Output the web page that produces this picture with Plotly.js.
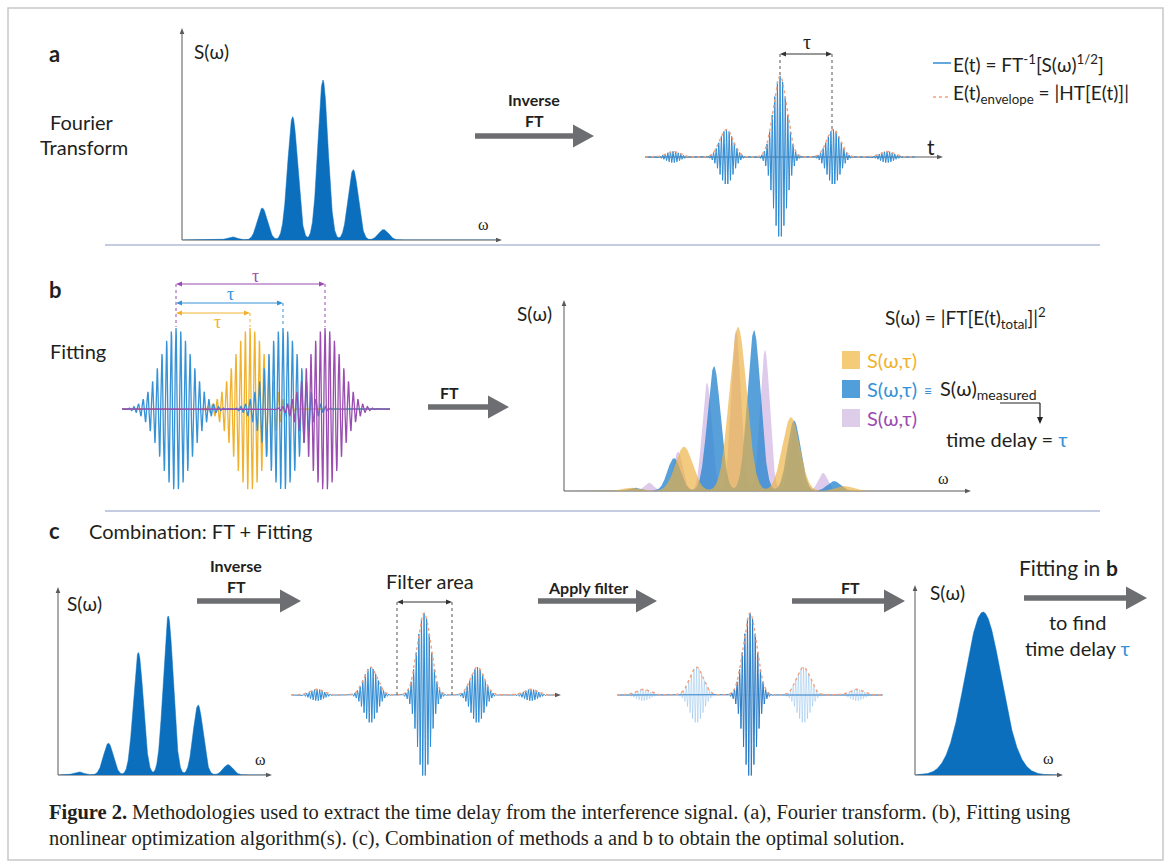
<!DOCTYPE html>
<html><head><meta charset="utf-8">
<script src="https://cdn.plot.ly/plotly-3.0.1.min.js"></script>
<style>html,body{margin:0;padding:0;background:#fff;}#fig{width:1171px;height:868px;}</style>
</head><body><div id="fig"></div>
<script>
const W = 1171, H = 868;

// ================= DATA =================
// (a) and (c): measured spectrum – fringe peak positions (ω, a.u.) and relative heights
const combPeakOmega  = [1, 2, 3, 4, 5, 6];
const combPeakHeight = [0.02, 0.20, 0.77, 1.00, 0.44, 0.065];
// (a) and (c): retrieved time-domain field – packet delays (units of τ) and relative amplitudes
const pulseDelayTau  = [-2, -1, 0, 1, 2];
const pulseAmplitude = [0.07, 0.34, 1.00, 0.34, 0.07];
// (c): packets kept by the filter
const filterKeep     = [false, false, true, false, false];
// (b): trial pulse pairs – reference pulse and trial delays (a.u.)
const trialRefDelay    = 0;
const trialDelayYellow = 74;
const trialDelayBlue   = 107;
const trialDelayPurple = 149;
// (b): trial spectra – fringe peaks (ω, a.u.) and heights (%)
const specYellowOmega  = [6.7, 12.0, 17.4, 22.7, 28.0];
const specYellowHeight = [2, 27, 100, 45, 3];
const specBlueOmega    = [7.0, 11.0, 15.0, 19.0, 23.0, 27.0];
const specBlueHeight   = [2, 20, 76, 98, 43, 6];
const specPurpleOmega  = [8.5, 11.4, 14.3, 17.2, 20.1, 23.0, 25.9];
const specPurpleHeight = [5, 24, 66, 98, 86, 38, 11];
// (c): spectrum of the filtered central packet
const filteredBandCenter = [0];
const filteredBandHeight = [1.0];

// ================= STYLE =================
const SANS  = 'Lato, "Open Sans", "DejaVu Sans", sans-serif';
const SERIF = '"Liberation Serif", "DejaVu Serif", serif';
const TXT = '#231f20', ARROW = '#6d6e71', AX = '#58595b';
const BLUE_FILL = '#0b6fbd', BLUE_LINE = '#2f8bd3', ENV = '#f3a27e';
const YEL = '#f0b22e', BLU = '#3592d6', PUR = '#9a4cb0';

// ================= HELPERS =================
function linspace(a, b, n) { const r = []; for (let i = 0; i < n; i++) r.push(a + (b - a) * i / (n - 1)); return r; }
function comb(xs, centers, heights, sigma) {
  return xs.map(x => centers.reduce((s, c, k) => s + heights[k] * Math.exp(-0.5 * ((x - c) / sigma) ** 2), 0));
}
function field(ts, delays, amps, sigma, period) {
  return ts.map(t => delays.reduce((s, d, k) => s + amps[k] * Math.exp(-0.5 * ((t - d) / sigma) ** 2) * Math.cos(2 * Math.PI * (t - d) / period), 0));
}
function envelope(ts, delays, amps, sigma) {
  return ts.map(t => delays.reduce((s, d, k) => s + amps[k] * Math.exp(-0.5 * ((t - d) / sigma) ** 2), 0));
}
function xR(p0, p1, pOrig, vOrig, s) { return [vOrig + (p0 - pOrig) / s, vOrig + (p1 - pOrig) / s]; }
function yR(p0, p1, pBase, vBase, s) { return [vBase - (p1 - pBase) / s, vBase + (pBase - p0) / s]; }

const layout = {
  width: W, height: H, margin: {l: 0, r: 0, t: 0, b: 0},
  paper_bgcolor: '#ffffff', plot_bgcolor: 'rgba(0,0,0,0)', showlegend: false,
  xaxis: {domain: [0, 1], range: [0, W], visible: false, fixedrange: true},
  yaxis: {domain: [0, 1], range: [H, 0], visible: false, fixedrange: true},
  shapes: [], annotations: []
};
let nAx = 1;
function panel(px0, px1, py0, py1, xr, yr) {
  nAx++; const k = nAx;
  layout['xaxis' + k] = {domain: [px0 / W, px1 / W], range: xr, visible: false, fixedrange: true, anchor: 'y' + k};
  layout['yaxis' + k] = {domain: [1 - py1 / H, 1 - py0 / H], range: yr, visible: false, fixedrange: true, anchor: 'x' + k};
  return {xaxis: 'x' + k, yaxis: 'y' + k};
}
const S = layout.shapes, A = layout.annotations;
function line(x0, y0, x1, y1, color, width, dash, layer) {
  S.push({type: 'line', xref: 'x', yref: 'y', x0, y0, x1, y1, line: {color, width, dash: dash || 'solid'}, layer: layer || 'above'});
}
function head(xt, yt, dir, len, half, color) {
  let p;
  if (dir === 'r') p = `M${xt},${yt} L${xt - len},${yt - half} L${xt - len},${yt + half} Z`;
  if (dir === 'l') p = `M${xt},${yt} L${xt + len},${yt - half} L${xt + len},${yt + half} Z`;
  if (dir === 'u') p = `M${xt},${yt} L${xt - half},${yt + len} L${xt + half},${yt + len} Z`;
  if (dir === 'd') p = `M${xt},${yt} L${xt - half},${yt - len} L${xt + half},${yt - len} Z`;
  S.push({type: 'path', xref: 'x', yref: 'y', path: p, fillcolor: color, line: {width: 0}, layer: 'above'});
}
function bigArrow(x0, x1, y) {
  const hl = 21, hh = 11.5, st = 2.7, xs = x1 - hl;
  S.push({type: 'path', xref: 'x', yref: 'y', layer: 'above', fillcolor: ARROW, line: {width: 0},
    path: `M${x0},${y - st} L${xs},${y - st} L${xs},${y - hh} L${x1},${y} L${xs},${y + hh} L${xs},${y + st} L${x0},${y + st} Z`});
}
function axisArrows(ox, oy, topY, rightX) {
  if (topY !== null) { line(ox, oy, ox, topY + 5, AX, 1, 'solid', 'below'); head(ox, topY, 'u', 6, 2.3, AX); }
  line(ox, oy, rightX - 5, oy, AX, 1, 'solid', 'below'); head(rightX, oy, 'r', 6, 2.3, AX);
}
function dblArrow(x0, x1, y, color) {
  line(x0 + 4, y, x1 - 4, y, color, 1);
  head(x0, y, 'l', 6, 2.6, color); head(x1, y, 'r', 6, 2.6, color);
}
function T(x, y, text, o) {
  o = o || {};
  A.push({xref: 'x', yref: 'y', x, y, text, showarrow: false, xanchor: o.xa || 'center', yanchor: o.ya || 'middle',
    borderpad: 0, font: {family: o.fam || SANS, size: o.size || 19, color: o.color || TXT, weight: o.bold ? 'bold' : 'normal'}});
}

// ================= PANELS (axes) =================
const aSpec = panel(182, 502, 26, 240, xR(182, 502, 232, 1, 30.3), yR(26, 240, 240, 0, 160));
const aTime = panel(645, 943, 70, 244, xR(645, 943, 780, 0, 53.5), yR(70, 244, 157, 0, 81));
const bSig  = panel(122, 390, 320, 498, xR(122, 390, 176, 0, 1), yR(320, 498, 409, 0, 81));
const bSpec = panel(564, 971, 300, 491, xR(564, 971, 564, 0, 10), yR(300, 491, 491, 0, 1.64));
const cSpec = panel(58, 272, 585, 775, xR(58, 272, 78.5, 1, 29.9), yR(585, 775, 775, 0, 159));
const cTime = panel(290, 560, 605, 785, xR(290, 560, 424, 0, 53.5), yR(605, 785, 695, 0, 82));
const cFilt = panel(617, 883, 605, 785, xR(617, 883, 750, 0, 53.5), yR(605, 785, 695, 0, 82));
const cGaus = panel(915, 1063, 585, 775, xR(915, 1063, 983, 0, 18), yR(585, 775, 775, 0, 163));

// ================= TRACES =================
const traces = [];
function add(ax, x, y, extra) { traces.push(Object.assign({type: 'scatter', mode: 'lines', x, y, hoverinfo: 'skip', showlegend: false}, ax, extra)); }

// (a) spectrum
let xs = linspace(-0.6, 9.8, 2200);
add(aSpec, xs, comb(xs, combPeakOmega, combPeakHeight, 0.165), {fill: 'tozeroy', fillcolor: BLUE_FILL, line: {color: BLUE_FILL, width: 0.5}});
// (a) time field + envelope
let ts = linspace(-2.52, 2.52, 5000);
add(aTime, ts, field(ts, pulseDelayTau, pulseAmplitude, 0.127, 0.0486), {line: {color: BLUE_LINE, width: 1}});
add(aTime, ts, envelope(ts, pulseDelayTau, pulseAmplitude, 0.127), {line: {color: ENV, width: 1.4, dash: '3px,3px'}});

// (b) trial fields
ts = linspace(-54, 214, 4000);
add(bSig, ts, field(ts, [trialDelayYellow], [1], 16, 4.7), {line: {color: YEL, width: 1.3}});
add(bSig, ts, field(ts, [trialRefDelay, trialDelayBlue], [1, 1], 16, 4.7), {line: {color: BLU, width: 1.3}});
add(bSig, ts, field(ts, [trialDelayPurple], [1], 16, 4.7), {line: {color: PUR, width: 1.3}});

// (b) trial spectra
xs = linspace(0.3, 40.5, 2500);
add(bSpec, xs, comb(xs, specPurpleOmega, specPurpleHeight, 0.48), {fill: 'tozeroy', fillcolor: 'rgba(200,168,222,0.6)', line: {width: 0, color: 'rgba(0,0,0,0)'}});
add(bSpec, xs, comb(xs, specBlueOmega, specBlueHeight, 0.66), {fill: 'tozeroy', fillcolor: 'rgba(40,133,208,0.78)', line: {width: 0, color: 'rgba(0,0,0,0)'}});
add(bSpec, xs, comb(xs, specYellowOmega, specYellowHeight, 0.87), {fill: 'tozeroy', fillcolor: 'rgba(236,178,68,0.68)', line: {width: 0, color: 'rgba(0,0,0,0)'}});

// (c) spectrum
xs = linspace(0.35, 7.4, 1800);
add(cSpec, xs, comb(xs, combPeakOmega, combPeakHeight, 0.165), {fill: 'tozeroy', fillcolor: BLUE_FILL, line: {color: BLUE_FILL, width: 0.5}});
// (c) time field
ts = linspace(-2.48, 2.45, 5000);
add(cTime, ts, field(ts, pulseDelayTau, pulseAmplitude, 0.127, 0.0486), {line: {color: BLUE_LINE, width: 1}});
add(cTime, ts, envelope(ts, pulseDelayTau, pulseAmplitude, 0.127), {line: {color: ENV, width: 1.4, dash: '3px,3px'}});
// (c) filtered field
ts = linspace(-2.48, 2.48, 5000);
const keptD = pulseDelayTau.filter((d, i) => filterKeep[i]), keptA = pulseAmplitude.filter((d, i) => filterKeep[i]);
const dropD = pulseDelayTau.filter((d, i) => !filterKeep[i]), dropA = pulseAmplitude.filter((d, i) => !filterKeep[i]);
add(cFilt, ts, field(ts, dropD, dropA, 0.127, 0.0486), {line: {color: 'rgba(95,165,225,0.33)', width: 1}});
add(cFilt, ts, field(ts, keptD, keptA, 0.127, 0.0486), {line: {color: '#2a7cc6', width: 1}});
add(cFilt, ts, envelope(ts, pulseDelayTau, pulseAmplitude, 0.127), {line: {color: ENV, width: 1.4, dash: '3px,3px'}});
// (c) filtered spectrum
xs = linspace(-3.7, 4.3, 700);
add(cGaus, xs, comb(xs, filteredBandCenter, filteredBandHeight, 1), {fill: 'tozeroy', fillcolor: BLUE_FILL, line: {color: BLUE_FILL, width: 0.5}});

// ================= FRAME / SEPARATORS =================
S.push({type: 'rect', xref: 'x', yref: 'y', x0: 8, y0: 8, x1: 1163, y1: 860, line: {color: '#c8c8c8', width: 1.5}, layer: 'below'});
line(105, 245, 1100, 245, '#b3bbd6', 1.5, 'solid', 'below');
line(105, 511, 1100, 511, '#b3bbd6', 1.5, 'solid', 'below');

// ================= PANEL a decorations =================
T(54, 53, 'a', {size: 22, bold: true});
T(82, 122, 'Fourier', {size: 20});
T(84, 147, 'Transform', {size: 20});
axisArrows(182, 240, 28, 502);
T(193, 51, 'S(ω)', {xa: 'left', size: 19});
T(483, 224, 'ω', {size: 16, fam: SERIF});
T(534, 99, 'Inverse', {size: 16, bold: true});
T(534, 120, 'FT', {size: 16, bold: true});
bigArrow(475, 594, 136);
line(645, 157, 938, 157, AX, 1, 'solid', 'below'); head(943, 157, 'r', 6, 2.3, AX);
T(931, 146, 't', {size: 21});
line(780, 54, 780, 78, '#555', 1, '3px,3px'); line(832, 54, 832, 130, '#555', 1, '3px,3px');
dblArrow(780, 832, 54, '#333');
T(807, 42, 'τ', {size: 20, fam: SERIF});
line(933, 63, 951, 63, BLUE_LINE, 1.5);
T(952, 63, 'E(t) = FT<sup>-1</sup>[S(ω)<sup>1/2</sup>]', {xa: 'left', size: 19});
line(933, 97, 951, 97, ENV, 1.3, '3px,3px');
T(952, 94, 'E(t)<sub>envelope</sub> = |HT[E(t)]|', {xa: 'left', size: 19});

// ================= PANEL b decorations =================
T(55, 289, 'b', {size: 22, bold: true});
T(78, 351, 'Fitting', {size: 20});
line(176, 284, 176, 327, PUR, 1, '3px,3px');
line(250, 313, 250, 327, YEL, 1, '3px,3px');
line(283, 303, 283, 327, BLU, 1, '3px,3px');
line(325, 284, 325, 327, PUR, 1, '3px,3px');
dblArrow(176, 325, 284, PUR); T(255, 276, 'τ', {size: 18, fam: SERIF, color: PUR});
dblArrow(176, 283, 303, BLU); T(230, 294, 'τ', {size: 18, fam: SERIF, color: BLU});
dblArrow(176, 250, 313, YEL); T(217, 322, 'τ', {size: 18, fam: SERIF, color: YEL});
T(449, 392, 'FT', {size: 16, bold: true});
bigArrow(428, 509, 407);
axisArrows(564, 491, 300, 971);
T(534, 313, 'S(ω)', {size: 19});
T(943, 478, 'ω', {size: 16, fam: SERIF});
T(884, 318, 'S(ω) = |FT[E(t)<sub>total</sub>]|<sup>2</sup>', {xa: 'left', size: 19});
[[360, 'rgba(244,204,120,1)', YEL], [389, 'rgba(80,158,218,1)', BLU], [418, 'rgba(222,205,232,1)', PUR]].forEach(r => {
  S.push({type: 'rect', xref: 'x', yref: 'y', x0: 842, x1: 860, y0: r[0] - 9, y1: r[0] + 9, fillcolor: r[1], line: {width: 0}, layer: 'above'});
  T(866, r[0], 'S(ω,τ)', {xa: 'left', size: 20, color: r[2]});
});
T(928, 390, '≡', {size: 14, color: BLU});
T(939, 389, 'S(ω)<sub>measured</sub>', {xa: 'left', size: 20});
line(1000, 403, 1040, 403, '#222', 1.2); line(1040, 403, 1040, 418, '#222', 1.2); head(1040, 424, 'd', 7, 3, '#222');
T(945, 439, 'time delay = <span style="color:' + BLU + '">τ</span>', {xa: 'left', size: 20});

// ================= PANEL c decorations =================
T(54, 530, 'c', {size: 22, bold: true});
T(88, 531, 'Combination: FT + Fitting', {xa: 'left', size: 20});
axisArrows(58, 775, 587, 272);
T(66, 603, 'S(ω)', {xa: 'left', size: 19});
T(260, 759, 'ω', {size: 16, fam: SERIF});
T(236, 565, 'Inverse', {size: 16, bold: true});
T(236, 586, 'FT', {size: 16, bold: true});
bigArrow(197, 301, 601);
head(561, 695, 'r', 6, 2.3, AX);
line(397, 602, 397, 695, '#555', 1, '3px,3px'); line(452, 602, 452, 695, '#555', 1, '3px,3px');
dblArrow(397, 452, 602, '#333');
T(430, 581, 'Filter area', {size: 20});
T(588, 587, 'Apply filter', {size: 16, bold: true});
bigArrow(538, 657, 601);
T(850, 587, 'FT', {size: 16, bold: true});
bigArrow(792, 905, 601);
axisArrows(915, 775, 585, 1063);
T(947, 592, 'S(ω)', {size: 19});
T(1048, 758, 'ω', {size: 16, fam: SERIF});
T(1101, 567, 'Fitting in', {xa: 'right', size: 21});
T(1105, 567, 'b', {xa: 'left', size: 21, bold: true});
bigArrow(1024, 1147, 598);
T(1077, 622, 'to find', {size: 20});
T(1077, 648, 'time delay <span style="color:' + BLU + '">τ</span>', {size: 20});

// ================= CAPTION =================
T(48, 812, 'Figure 2.', {xa: 'left', size: 20.5, fam: SERIF, bold: true});
T(131, 812, 'Methodologies used to extract the time delay from the interference signal. (a), Fourier transform. (b), Fitting using', {xa: 'left', size: 20.5, fam: SERIF});
T(48, 838, 'nonlinear optimization algorithm(s). (c), Combination of methods a and b to obtain the optimal solution.', {xa: 'left', size: 20.5, fam: SERIF});

Plotly.newPlot('fig', traces, layout, {staticPlot: true, displayModeBar: false});
</script></body></html>
